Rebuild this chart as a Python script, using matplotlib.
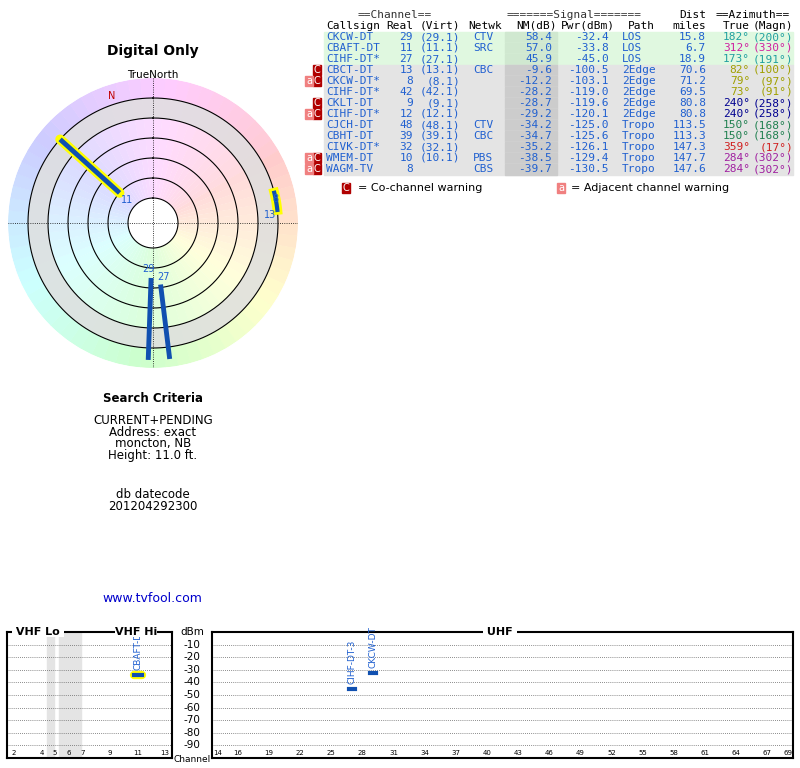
import numpy as np
import matplotlib.pyplot as plt
from matplotlib.patches import Rectangle

W, H = 800, 768
callsign = ["CKCW-DT", "CBAFT-DT", "CIHF-DT*", "CBCT-DT", "CKCW-DT*", "CIHF-DT*", "CKLT-DT",
            "CIHF-DT*", "CJCH-DT", "CBHT-DT", "CIVK-DT*", "WMEM-DT", "WAGM-TV"]
real = [29, 11, 27, 13, 8, 42, 9, 12, 48, 39, 32, 10, 8]
virt = ["(29.1)", "(11.1)", "(27.1)", "(13.1)", "(8.1)", "(42.1)", "(9.1)", "(12.1)",
        "(48.1)", "(39.1)", "(32.1)", "(10.1)", ""]
netwk = ["CTV", "SRC", "", "CBC", "", "", "", "", "CTV", "CBC", "", "PBS", "CBS"]
nm = [58.4, 57.0, 45.9, -9.6, -12.2, -28.2, -28.7, -29.2, -34.2, -34.7, -35.2, -38.5, -39.7]
pwr = [-32.4, -33.8, -45.0, -100.5, -103.1, -119.0, -119.6, -120.1, -125.0, -125.6, -126.1, -129.4, -130.5]
path = ["LOS", "LOS", "LOS", "2Edge", "2Edge", "2Edge", "2Edge", "2Edge", "Tropo", "Tropo", "Tropo", "Tropo", "Tropo"]
dist = [15.8, 6.7, 18.9, 70.6, 71.2, 69.5, 80.8, 80.8, 113.5, 113.3, 147.3, 147.7, 147.6]
az_true = [182, 312, 173, 82, 79, 73, 240, 240, 150, 150, 359, 284, 284]
az_magn = [200, 330, 191, 100, 97, 91, 258, 258, 168, 168, 17, 302, 302]
warn = ["", "", "", "C", "aC", "", "C", "aC", "", "", "", "aC", "aC"]
az_col = ["#20a0a0", "#d020a0", "#20a0a0", "#a0a000", "#a0a000", "#a0a000", "#000090", "#000090",
          "#208050", "#208050", "#d02020", "#a020a0", "#a020a0"]

# radar lines: (azimuth, inner r, outer r, label)
radar = [(312, 45, 125, "11"), (182, 55, 137, "29"), (173, 62, 137, "27")]

# spectrum bars (channel, dBm, label)
spec_ch = [11, 27, 29]
spec_dbm = [-33.8, -45.0, -32.4]
spec_lbl = ["CBAFT-DT", "CIHF-DT-3", "CKCW-DT"]

fig = plt.figure(figsize=(8, 7.68), dpi=100)
BLUE = "#2060d0"

def px(x, y):
    return x / W, 1 - y / H

def T(x, y, s, **kw):
    fig.text(*px(x, y), s, **kw)

mono = dict(family="DejaVu Sans Mono", fontsize=8, va="center")

# ---- table ----
T(358, 15, "==Channel==", ha="left", color="#333", **mono)
T(507, 15, "=======Signal=======", ha="left", color="#333", **mono)
T(706, 15, "Dist", ha="right", **mono)
T(716, 15, "==Azimuth==", ha="left", **mono)
for x, s, ha in [(326, "Callsign", "left"), (413, "Real", "right"), (460, "(Virt)", "right"),
                 (468, "Netwk", "left"), (557, "NM(dB)", "right"), (615, "Pwr(dBm)", "right"),
                 (655, "Path", "right"), (706, "miles", "right"), (750, "True", "right"),
                 (793, "(Magn)", "right")]:
    T(x, 26, s, ha=ha, **mono)
for i in range(len(callsign)):
    y = 37 + i * 11
    bg = "#e0f8e0" if i < 3 else "#e4e4e4"
    fig.patches.append(Rectangle(px(324, y + 5.5), 469 / W, 10 / H, transform=fig.transFigure,
                                 color=bg, zorder=0))
    fig.patches.append(Rectangle(px(505, y + 5.5), 52 / W, 11 / H, transform=fig.transFigure,
                                 color="#cccccc" if i >= 3 else "#d0e8d0", zorder=0))
    T(326, y, callsign[i], ha="left", color=BLUE, **mono)
    T(413, y, str(real[i]), ha="right", color=BLUE, **mono)
    T(460, y, virt[i], ha="right", color=BLUE, **mono)
    T(473, y, netwk[i], ha="left", color=BLUE, **mono)
    T(552, y, f"{nm[i]:.1f}", ha="right", color=BLUE, **mono)
    T(609, y, f"{pwr[i]:.1f}", ha="right", color=BLUE, **mono)
    T(622, y, path[i], ha="left", color=BLUE, **mono)
    T(706, y, f"{dist[i]:.1f}", ha="right", color=BLUE, **mono)
    T(750, y, f"{az_true[i]}°", ha="right", color=az_col[i], **mono)
    T(793, y, f"({az_magn[i]}°)", ha="right", color=az_col[i], **mono)
    for k, ch in enumerate(reversed(warn[i])):
        x0 = 313 - k * 8
        fig.patches.append(Rectangle(px(x0, y + 5), 8 / W, 10 / H, transform=fig.transFigure,
                                     color="#b00000" if ch == "C" else "#f08080", zorder=1))
        T(x0 + 4, y, ch, ha="center", color="white", family="DejaVu Sans",
          fontsize=7, va="center")
fig.patches.append(Rectangle(px(342, 193), 8 / W, 10 / H, transform=fig.transFigure, color="#b00000"))
T(346, 188, "C", ha="center", color="white", fontsize=7, va="center")
T(358, 188, "= Co-channel warning", ha="left", family="DejaVu Sans", fontsize=8, va="center")
fig.patches.append(Rectangle(px(557, 193), 8 / W, 10 / H, transform=fig.transFigure, color="#f08080"))
T(561, 188, "a", ha="center", color="white", fontsize=7, va="center")
T(571, 188, "= Adjacent channel warning", ha="left", family="DejaVu Sans", fontsize=8, va="center")

# ---- radar ----
T(153, 51, "Digital Only", ha="center", va="center", fontsize=10, fontweight="bold")
T(153, 75, "TrueNorth", ha="center", va="center", fontsize=7.5)
cx, cy, R = 153, 223, 145
ax = fig.add_axes([(cx - R) / W, 1 - (cy + R) / H, 2 * R / W, 2 * R / H], projection="polar")
ax.set_theta_zero_location("N")
ax.set_theta_direction(-1)
ax.set_ylim(0, R)
ax.axis("off")
th = np.linspace(0, 2 * np.pi, 360)
cmap = plt.cm.hsv
for k in range(72):
    a0 = k * 5
    base = np.array(cmap(((a0 + 300) % 360) / 360)[:3])
    ax.bar(np.radians(a0 + 2.5), R - 125, width=np.radians(5.2), bottom=125,
           color=0.8 + 0.2 * base, linewidth=0)
    ax.bar(np.radians(a0 + 2.5), 125, width=np.radians(5.2), bottom=0,
           color=0.86 + 0.14 * base, linewidth=0)
# grey annuli like the reference
ax.bar(0, 20, width=2 * np.pi, bottom=105, color="#dddddd", linewidth=0, alpha=0.8)
ax.bar(0, 25, width=2 * np.pi, bottom=0, color="white", linewidth=0)
for r in [25, 45, 65, 85, 105, 125]:
    ax.plot(th, np.full_like(th, r), color="black", lw=0.8)
ax.plot([0, np.pi], [R, R], color="black", lw=0.6, ls=":")
ax.plot([np.pi / 2, 3 * np.pi / 2], [R, R], color="black", lw=0.6, ls=":")
ax.text(np.radians(-18), 134, "N", color="#c00000", fontsize=7, ha="center", va="center")
lab_off = {"11": (0, -10), "29": (4, -9), "27": (-4, -7)}
for az, r0, r1, lab in radar:
    t = np.radians(az)
    if lab == "11":
        ax.plot([t, t], [r0, r1], color="yellow", lw=7, solid_capstyle="round")
    ax.plot([t, t], [r0, r1], color="#1050b0", lw=3.5, solid_capstyle="butt")
    da, dr = lab_off[lab]
    ax.text(t + np.radians(da), r0 + dr, lab, color=BLUE, fontsize=7, ha="center", va="center")
arc = np.radians(np.linspace(76, 84, 20))
ax.plot(arc, np.full_like(arc, 125), color="yellow", lw=7)
ax.plot(arc, np.full_like(arc, 125), color="#1050b0", lw=3)
ax.text(np.radians(79), 125, "8", color=BLUE, fontsize=7, ha="center", va="center")
ax.text(np.radians(86), 117, "13", color=BLUE, fontsize=7, ha="center", va="center")

# ---- search criteria ----
T(153, 398, "Search Criteria", ha="center", va="center", fontsize=8.5, fontweight="bold")
fig.lines.append(plt.Line2D([108 / W, 198 / W], [1 - 405 / H] * 2, color="black", lw=0.8))
for i, s in enumerate(["CURRENT+PENDING", "Address: exact", "moncton, NB", "Height: 11.0 ft."]):
    T(153, 420 + i * 12, s, ha="center", va="center", fontsize=8.5)
T(153, 494, "db datecode", ha="center", va="center", fontsize=8.5)
T(153, 506, "201204292300", ha="center", va="center", fontsize=8.5)
T(152, 598, "www.tvfool.com", ha="center", va="center", fontsize=9, color="#0000cc")
fig.lines.append(plt.Line2D([103 / W, 201 / W], [1 - 605 / H] * 2, color="#0000cc", lw=0.8))

# ---- spectrum ----
def spec_axes(x0, x1, lo, hi, ticks):
    a = fig.add_axes([x0 / W, 1 - 758 / H, (x1 - x0) / W, 126 / H])
    a.set_xlim(lo, hi)
    a.set_ylim(-100, 0)
    a.set_yticks([])
    a.set_xticks(ticks)
    a.set_xticklabels([str(t) for t in ticks], fontsize=5)
    a.tick_params(axis="x", length=0, pad=-6)
    for yv in range(-90, 0, 10):
        a.axhline(yv, color="#666", lw=0.6, ls=(0, (1, 1.5)))
    for s in a.spines.values():
        s.set_linewidth(1.5)
    return a

vl = spec_axes(7, 172, 1.5, 13.5, [2, 4, 5, 6, 7, 9, 11, 13])
vl.axvspan(4.4, 4.9, color="#e4e4e4", zorder=0)
vl.axvspan(5.3, 6.9, color="#e4e4e4", zorder=0)
uh = spec_axes(212, 793, 13.5, 69.5, [14, 16, 19, 22, 25, 28, 31, 34, 37, 40, 43, 46, 49, 52, 55, 58, 61, 64, 67, 69])
for x, s in [(38, "VHF Lo"), (500, "UHF")]:
    T(x, 632, " " + s + " ", ha="center", va="center", fontsize=8, fontweight="bold",
      bbox=dict(facecolor="white", edgecolor="none", pad=0))
T(136, 632, "VHF Hi", ha="center", va="center", fontsize=8, fontweight="bold",
  bbox=dict(facecolor="white", edgecolor="none", pad=0))
for ch, d, lab in zip(spec_ch, spec_dbm, spec_lbl):
    a = vl if ch <= 13 else uh
    if ch == 11:
        a.plot([ch - 0.3, ch + 0.3], [d, d], color="yellow", lw=6, solid_capstyle="round")
    a.plot([ch - 0.3, ch + 0.3], [d, d], color="#1050b0", lw=3)
    a.text(ch, d + 4, lab, rotation=90, color=BLUE, fontsize=6.5, ha="center", va="bottom",
           clip_on=False, zorder=5)
T(192, 632, "dBm", ha="center", va="center", fontsize=7.5)
for yv in range(-10, -100, -10):
    T(192, 632 + (-yv) * 1.26, str(yv), ha="center", va="center", fontsize=7.5)
T(192, 759, "Channel", ha="center", va="center", fontsize=6.5)

fig.savefig("out.png", dpi=100)
